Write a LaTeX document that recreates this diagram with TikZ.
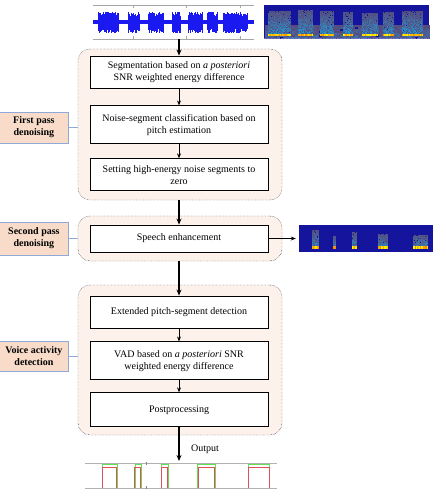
\documentclass[tikz,border=0pt]{standalone}
\usepackage{fontspec}
\setmainfont{Liberation Serif}
\usetikzlibrary{positioning,arrows.meta}
\definecolor{grpfill}{HTML}{FCF1EB}
\definecolor{lblfill}{HTML}{F8DCC9}
\definecolor{lbldraw}{HTML}{8FAAD9}
\definecolor{specblue}{HTML}{14149C}
\definecolor{wavecol}{HTML}{1A1AF0}
\definecolor{vadred}{HTML}{E0505A}
\definecolor{vadgreen}{HTML}{66DD55}

\begin{document}
\begin{tikzpicture}[x=1pt, y=-1pt,
  stage/.style={draw, line width=0.9pt, fill=white, minimum width=178pt, align=center, font=\fontsize{10}{12}\selectfont, inner sep=2pt},
  group/.style={draw, densely dotted, fill=grpfill, rounded corners=12pt, minimum width=204pt},
  passlabel/.style={draw=lbldraw, line width=0.8pt, fill=lblfill, minimum width=69pt, align=center, font=\fontsize{10}{12}\selectfont\bfseries, inner sep=2pt},
  flow/.style={-{Stealth[length=5pt,width=4pt]}, line width=0.8pt},
  bigflow/.style={-{Stealth[length=6pt,width=5pt]}, line width=1.5pt}]
\useasboundingbox (0,0) rectangle (445,497);
\pgfmathsetseed{7}

% input signal and its spectrogram
\node[minimum width=161pt, minimum height=34pt, inner sep=0pt] (wave) at (173.5,22) {};
\draw[gray!70] (93,5) -- (254,5) (93,39) -- (254,39);
\foreach \x in {133,186,240} \draw[gray!70] (\x,5) -- (\x,8) (\x,39) -- (\x,36);
\draw[wavecol, line width=4pt] (93,22.5) -- (254,22.5);
\foreach \a/\b in {98/118,128/139,148/163,172/180,188/202,207/217,223/247}
  \foreach \x in {\a,\a.5,...,\b} {
    \pgfmathsetmacro\h{6+5*rnd}
    \pgfmathsetmacro\k{6+5*rnd}
    \draw[wavecol, line width=0.7pt] (\x,22.5-\h) -- (\x,22.5+\k);
  }

\node[fill=specblue, minimum width=165pt, minimum height=34pt, inner sep=0pt] (spec) at (346.5,22) {};
\foreach \y in {25,27,...,37}
  \foreach \x in {265,268,...,427} {
    \pgfmathsetmacro\p{int(45*rnd*(\y-21)/16)}
    \fill[cyan!\p!specblue] (\x,\y) rectangle +(3,2);
  }
\foreach \a/\b/\t in {268/290/11,298/312/10,320/333/11,343/352/12,362/377/13,383/393/12,402/422/11}
  \foreach \y in {\t,...,35}
    \foreach \x in {\a,...,\b} {
      \pgfmathsetmacro\p{int(100*rnd*(\y-\t+4)/(39-\t))}
      \fill[cyan!\p!specblue] (\x,\y) rectangle +(1.2,1.2);
    }
\foreach \a/\b in {268/290,298/312,320/333,343/352,362/377,383/393,402/422}
  \foreach \x in {\a,...,\b} {
    \pgfmathsetmacro\p{int(100*rnd)}
    \fill[orange!\p!yellow] (\x,34) rectangle +(1,2.5);
  }
\draw[specblue!60!white, densely dotted] (264,38.5) -- (429,38.5);

% processing groups
\node[group, minimum height=151pt] (g1) at (180,124.5) {};
\node[group, minimum height=45pt] (g2) at (180,238.5) {};
\node[group, minimum height=150pt] (g3) at (180,360) {};

\node[stage, minimum height=32pt] (seg) at (179,72) {Segmentation based on \textit{a posteriori}\\SNR weighted energy difference};
\node[stage, minimum height=38pt, below=17pt of seg] (cls) {Noise-segment classification based on\\pitch estimation};
\node[stage, minimum height=32pt, below=14pt of cls] (zero) {Setting high-energy noise segments to\\zero};

\node[stage, minimum height=27pt] (enh) at (179,238.5) {Speech enhancement};

\node[stage, minimum height=32pt] (pitch) at (179,312) {Extended pitch-segment detection};
\node[stage, minimum height=38pt, below=13pt of pitch] (vad) {VAD based on \textit{a posteriori} SNR\\weighted energy difference};
\node[stage, minimum height=34pt, below=12pt of vad] (post) {Postprocessing};

% pass labels
\node[passlabel, minimum height=31pt, left=9pt of g1, yshift=-3pt] (first) {First pass\\denoising};
\node[passlabel, minimum height=33pt, left=9pt of g2] (second) {Second pass\\denoising};
\node[passlabel, minimum height=30pt, left=9pt of g3, yshift=4pt] (voice) {Voice activity\\detection};
\draw[lbldraw, line width=0.8pt] (first.east) -- (first.east -| g1.west);
\draw[lbldraw, line width=0.8pt] (second.east) -- (second.east -| g2.west);
\draw[lbldraw, line width=0.8pt] (voice.east) -- (voice.east -| g3.west);

% enhanced spectrogram
\node[fill=specblue, minimum width=134pt, minimum height=27pt, inner sep=0pt] (spec2) at (366,238.5) {};
\foreach \a/\b/\t in {312/318/230,333/335/236,352/356/232,378/387/234,413/427/235}
  \foreach \y in {\t,...,248}
    \foreach \x in {\a,...,\b} {
      \pgfmathsetmacro\p{int(100*rnd*(\y-\t+3)/(252-\t))}
      \fill[cyan!\p!specblue] (\x,\y) rectangle +(1.2,1.2);
    }
\foreach \a/\b in {312/318,333/335,352/356,378/387,413/427}
  \foreach \x in {\a,...,\b} {
    \pgfmathsetmacro\p{int(100*rnd)}
    \fill[orange!\p!yellow] (\x,246) rectangle +(1,2.5);
  }

% connections
\draw[bigflow] (wave.south -| seg.north) -- (seg.north);
\draw[flow] (seg) -- (cls);
\draw[flow] (cls) -- (zero);
\draw[bigflow] (g1.south -| enh.north) -- (enh.north);
\draw[flow] (enh.east) -- ([xshift=-3pt]spec2.west);
\draw[bigflow] (g2.south -| pitch.north) -- (pitch.north);
\draw[flow] (pitch) -- (vad);
\draw[flow] (vad) -- (post);
\coordinate (out) at (179,461);
\draw[bigflow] (post.south) -- (out);
\node[font=\fontsize{10}{12}\selectfont] (outlbl) at (205,449) {Output};

% VAD decision
\draw[gray!60] (85,463) -- (277,463) (85,488) -- (277,488);
\draw[gray] (146,462) -- (146,465) (146,486) -- (146,489);
\foreach \a/\b in {102/117,135/141,161/168,197/215,248/269}
  \draw[vadgreen] (\a,488) -- (\a,464) -- (\b,464) -- (\b,488);
\foreach \a/\b in {102/116,134/140,161/167,198/214,248/269}
  \draw[vadred] (\a,488) -- (\a,467) -- (\b,467) -- (\b,488);
\end{tikzpicture}
\end{document}
